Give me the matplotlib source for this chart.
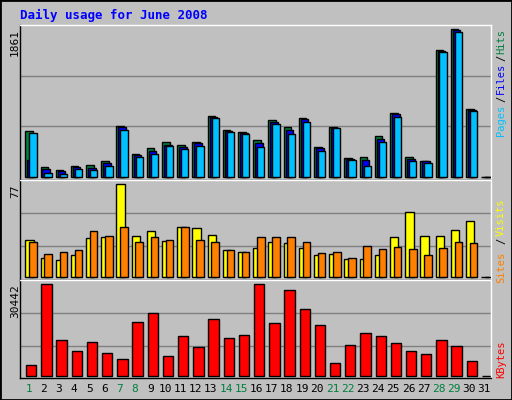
import matplotlib
matplotlib.use("Agg")
import matplotlib.pyplot as plt
from matplotlib.patches import Rectangle

# ── Data (June 2008) ──────────────────────────────────────────────────────────
days = list(range(1, 32))
weekend_days = [1, 7, 8, 14, 15, 21, 22, 28, 29]

hits = [573, 118, 80, 135, 147, 198, 636, 286, 362, 438, 400, 438, 766, 585, 560,
        463, 716, 627, 741, 375, 627, 236, 248, 514, 804, 248, 198, 1600, 1861, 855, 0]
files = [211, 97, 67, 122, 109, 173, 623, 270, 324, 396, 375, 421, 754, 573, 547,
         421, 691, 590, 728, 362, 615, 223, 211, 472, 792, 223, 194, 1587, 1848, 842, 0]
pages = [547, 42, 29, 93, 80, 131, 585, 244, 282, 387, 349, 387, 737, 560, 535,
         371, 661, 535, 686, 320, 611, 206, 131, 434, 750, 194, 168, 1570, 1823, 834, 0]

visits = [30.3, 15.3, 13.6, 17.8, 32, 32.8, 77, 33.6, 37.8, 29.5, 41, 40.3, 34.5, 22, 20.3,
          23.6, 28.6, 27.8, 23.6, 17.8, 18.6, 14.5, 14.5, 17.8, 32.8, 53.6, 33.6, 33.6, 38.6, 46.1, 0]
sites = [28.6, 18.6, 20.3, 22, 37.8, 33.6, 41.1, 28.6, 32.8, 30.3, 41.1, 30.3, 28.6, 22, 20.3,
         32.8, 32.8, 32.8, 28.6, 19.5, 20.3, 15.3, 25.3, 22.8, 24.4, 22.8, 17.8, 23.6, 28.6, 27.8, 0]

kbytes = [3444, 30442, 11777, 8110, 11110, 7444, 5444, 17776, 20776, 6444, 13110, 9444, 18776,
          12443, 13443, 30442, 17443, 28442, 22109, 16776, 4111, 10110, 14110, 13110, 10777,
          8110, 7110, 11777, 9777, 4777, 0]

BG = "#C0C0C0"
W, H = 512, 400

fig = plt.figure(figsize=(W / 100, H / 100), dpi=100)
fig.patch.set_facecolor(BG)
fig.patches.append(Rectangle((0, 0), 1, 1, transform=fig.transFigure, fill=False,
                             edgecolor="black", linewidth=2))


def add_px_axes(x0, y0, x1, y1):
    """Axes from pixel box (top-left origin)."""
    ax = fig.add_axes([x0 / W, 1 - y1 / H, (x1 - x0) / W, (y1 - y0) / H])
    ax.set_facecolor(BG)
    ax.set_xlim(0.5, 31.5)
    ax.set_xticks([])
    ax.set_yticks([])
    for s in ax.spines.values():
        s.set_linewidth(1)
    ax.spines["top"].set_color("white")
    ax.spines["right"].set_color("white")
    return ax


def grid(ax, vals):
    for v in vals:
        ax.axhline(v, color="#808080", linewidth=1, zorder=0)


edge = dict(edgecolor="black", linewidth=1, align="edge")
d = [x for x in days]

# top panel
ax1 = add_px_axes(20, 25, 491, 180.3)
ax1.set_ylim(-45, 1916)
grid(ax1, [644, 1268])
ax1.bar([x - 0.15 for x in d], hits, width=0.5, color="#008040", zorder=2, **edge)
ax1.bar([x - 0.02 for x in d], files, width=0.5, color="#0000FF", zorder=3, **edge)
ax1.bar([x + 0.11 for x in d], pages, width=0.48, color="#00C0FF", zorder=4, **edge)

# middle panel
ax2 = add_px_axes(20, 180.3, 491, 280)
ax2.set_ylim(-2.75, 80.3)
grid(ax2, [25.3, 52.7])
ax2.bar([x - 0.15 for x in d], visits, width=0.55, color="#FFFF00", zorder=2, **edge)
ax2.bar([x + 0.1 for x in d], sites, width=0.5, color="#FF8000", zorder=3, **edge)

# bottom panel
ax3 = add_px_axes(20, 280, 491, 377.7)
ax3.set_ylim(-666, 31870)
grid(ax3, [9770, 20750])
ax3.bar([x - 0.1 for x in d], kbytes, width=0.68, color="#FF0000", zorder=2, **edge)

mono = "DejaVu Sans Mono"


def ftext(x, y, s, **kw):
    fig.text(x / W, 1 - y / H, s, family=mono, **kw)


ftext(20, 15, "Daily usage for June 2008", color="#0000FF", fontsize=9,
      fontweight="bold", va="center")

ftext(15, 29, str(max(hits)), rotation=90, fontsize=8, va="top", ha="center")
ftext(15, 184, str(int(max(visits))), rotation=90, fontsize=8, va="top", ha="center")
ftext(15, 284, str(max(kbytes)), rotation=90, fontsize=8, va="top", ha="center")

# right-side legends (read bottom to top)
leg = [
    (29, "Hits", "#008040"), (55, "/", "black"), (63, "Files", "#0000FF"),
    (96, "/", "black"), (105, "Pages", "#00C0FF"),
    (198, "Visits", "#FFFF00"), (238, "/", "black"), (252, "Sites", "#FF8000"),
    (341, "KBytes", "#FF0000"),
]
for ytop, s, c in leg:
    ftext(501, ytop, s, rotation=90, fontsize=7.5, va="top", ha="center", color=c)

# day labels
for day in days:
    xpix = 20 + (day - 0.5) / 31 * 471 + 1
    color = "#008040" if day in weekend_days else "black"
    ftext(xpix, 389, str(day), fontsize=8, ha="center", va="center", color=color)

fig.savefig("out.png", dpi=100, facecolor=BG)
